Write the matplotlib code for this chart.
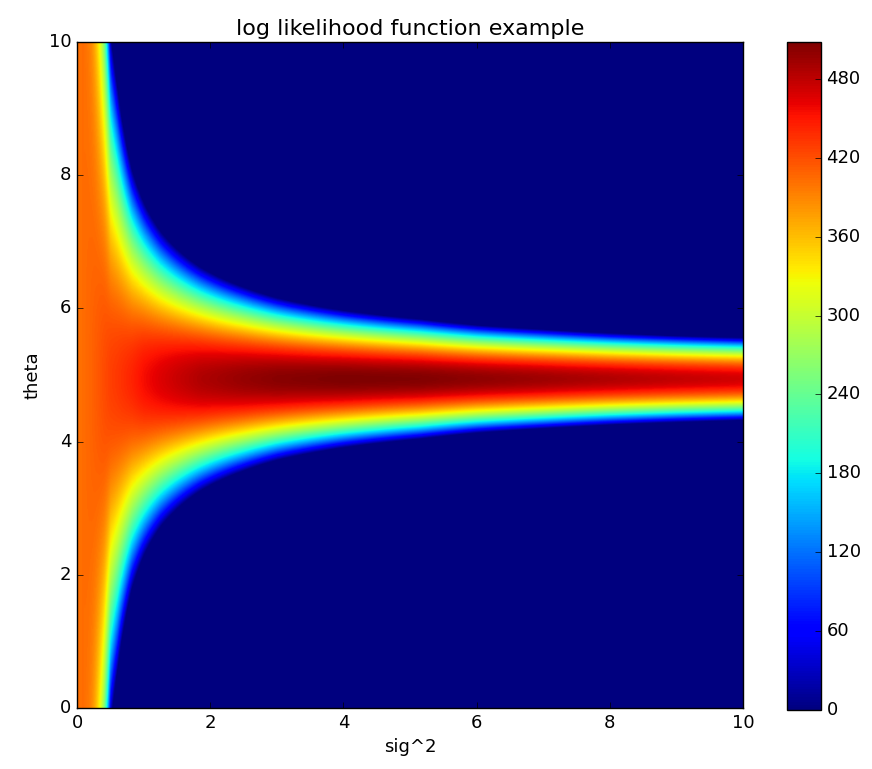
import numpy as np
import matplotlib
matplotlib.use('Agg')
import matplotlib.pyplot as plt

plt.style.use('classic')

title = "log likelihood function example"
x_label = "sig^2"
y_label = "theta"
sig2_range = [0, 10]
theta_range = [0, 10]
axis_ticks = [0, 2, 4, 6, 8, 10]
cbar_ticks = [0, 60, 120, 180, 240, 300, 360, 420, 480]

# Ridge profile (per sig^2 knot)
sig2_knots     = [0.1, 0.2, 0.3, 0.4, 0.5, 0.6, 0.82, 1.0, 1.25, 1.5, 1.85, 2.5, 3.0, 4.0, 5.15, 6.0, 7.0, 8.0, 9.0, 10.0]
ridge_peak     = [404, 408, 414, 421, 428, 432, 443, 455, 466, 475, 486, 497, 503, 508, 506, 500, 493, 485, 477, 470]
ridge_center   = [4.94] * 20
zero_halfwidth = [63, 24, 12.6, 8.05, 5.2, 4.4, 3.15, 2.65, 2.22, 1.95, 1.68, 1.38, 1.22, 1.03, 0.9, 0.81, 0.745, 0.69, 0.65, 0.62]
ridge_at_zero  = 400   # value along the left edge (sig^2 = 0), flat in theta

# Build the field from the read profile (log-log interpolation of the widths)
s = np.linspace(sig2_range[0], sig2_range[1], 800)
t = np.linspace(theta_range[0], theta_range[1], 800)
P = np.interp(s, [0.0] + sig2_knots, [ridge_at_zero] + ridge_peak)
C = np.interp(s, sig2_knots, ridge_center)
s_pos = np.maximum(s, 1e-6)
w = np.exp(np.interp(np.log(s_pos), np.log(sig2_knots), np.log(zero_halfwidth),
                     left=np.log(1e6)))
S, T = np.meshgrid(s, t)
Z = P[None, :] * (1 - ((T - C[None, :]) / w[None, :]) ** 2)
Z = np.clip(Z, 0, None)

W, H = 872, 769
fig = plt.figure(figsize=(W / 100, H / 100), dpi=100, facecolor='white')
ax = fig.add_axes([77 / W, 1 - 708 / H, 666 / W, 666 / H])
im = ax.imshow(Z, origin='lower', extent=sig2_range + theta_range,
               cmap='jet', vmin=0, aspect='auto', interpolation='bilinear')
ax.set_xlim(sig2_range)
ax.set_ylim(theta_range)
ax.set_xticks(axis_ticks)
ax.set_yticks(axis_ticks)
ax.set_title(title, fontsize=16)
ax.set_xlabel(x_label, fontsize=13)
ax.set_ylabel(y_label, fontsize=13)
ax.tick_params(labelsize=13)

cax = fig.add_axes([787 / W, 1 - 710 / H, 34 / W, 668 / H])
cb = fig.colorbar(im, cax=cax, ticks=cbar_ticks)
cb.ax.tick_params(labelsize=13)

fig.savefig('out.png', dpi=100, facecolor='white')
